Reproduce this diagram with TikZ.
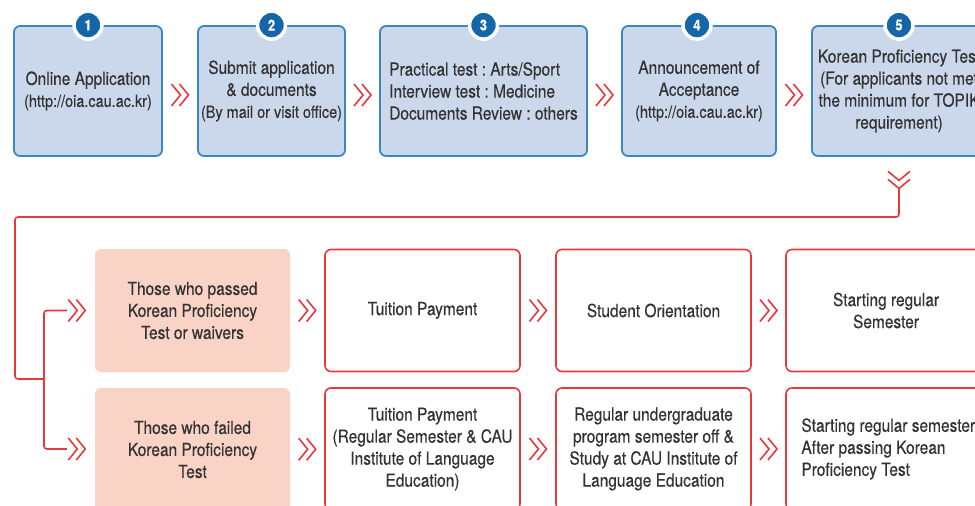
\documentclass[tikz,border=0pt]{standalone}
\usepackage{fontspec}
\setmainfont{TeX Gyre Heros}[FakeStretch=0.86, FakeBold=0.35]
\usetikzlibrary{calc}
\definecolor{txt}{HTML}{333333}
\definecolor{bluebd}{HTML}{3A88C3}
\definecolor{bluefill}{HTML}{CBD8EC}
\definecolor{numblue}{HTML}{1466A8}
\definecolor{redc}{HTML}{E8383D}
\definecolor{pinkfill}{HTML}{F9D4C6}
\newcommand{\paren}[1]{{\fontsize{16.8}{22}\selectfont #1}}
\frenchspacing
\begin{document}
\begin{tikzpicture}[x=1pt,y=-1pt,
  every node/.style={text=txt, font=\fontsize{18}{22}\selectfont},
  bluebox/.style={draw=bluebd, fill=bluefill, line width=1.8, rounded corners=6,
    minimum height=130, inner sep=0, align=center},
  redbox/.style={draw=redc, fill=white, line width=1.6, rounded corners=6,
    minimum height=122, minimum width=195, inner sep=0, align=center},
  pinkbox/.style={fill=pinkfill, rounded corners=6,
    minimum height=123, minimum width=195, inner sep=0, align=center},
  numc/.style={circle, fill=numblue, draw=white, line width=3.5, minimum size=28,
    inner sep=0, text=white, font=\bfseries\fontsize{15}{15}\selectfont},
  redline/.style={draw=redc, line width=1.6, rounded corners=3},
  chevline/.style={draw=redc, line width=1.6},
  chevr/.pic={\draw[chevline] (-8.5,-11) -- (0.5,0) -- (-8.5,11)
                               (-0.5,-11) -- (8.5,0) -- (-0.5,11);},
  chevd/.pic={\draw[chevline] (-11,-8.5) -- (0,0.5) -- (11,-8.5)
                               (-11,-0.5) -- (0,8.5) -- (11,-0.5);}
]
\useasboundingbox (0,0) rectangle (975,506);
\clip (0,0) rectangle (975,506);

% top row
\node[bluebox, minimum width=148] (b1) at (88,91) {Online Application\\\paren{(http://oia.cau.ac.kr)}};
\node[bluebox, minimum width=147] (b2) at (271.5,91) {Submit application\\\& documents\\\paren{(By mail or visit office)}};
\node[bluebox, minimum width=207, align=left] (b3) at (483.5,91) {Practical test : Arts/Sport\\Interview test : Medicine\\Documents Review : others};
\node[bluebox, minimum width=154] (b4) at (699,91) {Announcement of\\Acceptance\\\paren{(http://oia.cau.ac.kr)}};
\node[bluebox, minimum width=174] (b5) at (899,91) {Korean Proficiency Test\\(For applicants not met\\the minimum for TOPIK\\requirement)};

\node[numc] (n1) at (b1.north) {1};
\node[numc] (n2) at (b2.north) {2};
\node[numc] (n3) at (b3.north) {3};
\node[numc] (n4) at ([xshift=-2pt]b4.north) {4};
\node[numc] (n5) at (b5.north) {5};

\pic at ($(b1.east)!0.5!(b2.west)+(0,4)$) {chevr};
\pic at ($(b2.east)!0.5!(b3.west)+(0,4)$) {chevr};
\pic at ($(b3.east)!0.5!(b4.west)+(0,4)$) {chevr};
\pic at ($(b4.east)!0.5!(b5.west)+(0,4)$) {chevr};
\pic at ([yshift=-23pt]b5.south) {chevd};

% lower rows
\node[pinkbox] (p1) at (192.5,310.5) {Those who passed\\Korean Proficiency\\Test or waivers};
\node[pinkbox] (p2) at (192.5,449.5) {Those who failed\\Korean Proficiency\\Test};
\node[redbox] (r1) at (422.5,310.5) {Tuition Payment};
\node[redbox] (r2) at (653.5,310.5) {Student Orientation};
\node[redbox, minimum width=200] (r3) at (886,310.5) {Starting regular\\Semester};
\node[redbox] (s1) at (422.5,449) {Tuition Payment\\(Regular Semester \& CAU\\Institute of Language\\Education)};
\node[redbox] (s2) at (653.5,449) {Regular undergraduate\\program semester off \&\\Study at CAU Institute of\\Language Education};
\node[redbox, minimum width=200] (s3) at (886,449) {};
\node[anchor=west, align=left, inner sep=0] (s3t) at ([xshift=16pt]s3.west) {Starting regular semester\\After passing Korean\\Proficiency Test};

\pic at ($(p1.east)!0.5!(r1.west)$) {chevr};
\pic at ($(r1.east)!0.5!(r2.west)$) {chevr};
\pic at ($(r2.east)!0.5!(r3.west)$) {chevr};
\pic at ($(p2.east)!0.5!(s1.west)$) {chevr};
\pic at ($(s1.east)!0.5!(s2.west)$) {chevr};
\pic at ($(s2.east)!0.5!(s3.west)$) {chevr};

% connector
\coordinate (dtip) at ([yshift=-32pt]b5.south);
\coordinate (lane) at (15,217);
\coordinate (br) at (44,379);
\coordinate (e1) at ([xshift=-28pt]p1.west);
\coordinate (e2) at ([xshift=-28pt]p2.west |- s1.center);
\draw[redline] (dtip) |- (lane) |- (br);
\draw[redline] (e1) -| (br) |- (e2);
\pic at ([xshift=10pt]e1) {chevr};
\pic at ([xshift=10pt]e2) {chevr};
\end{tikzpicture}
\end{document}
